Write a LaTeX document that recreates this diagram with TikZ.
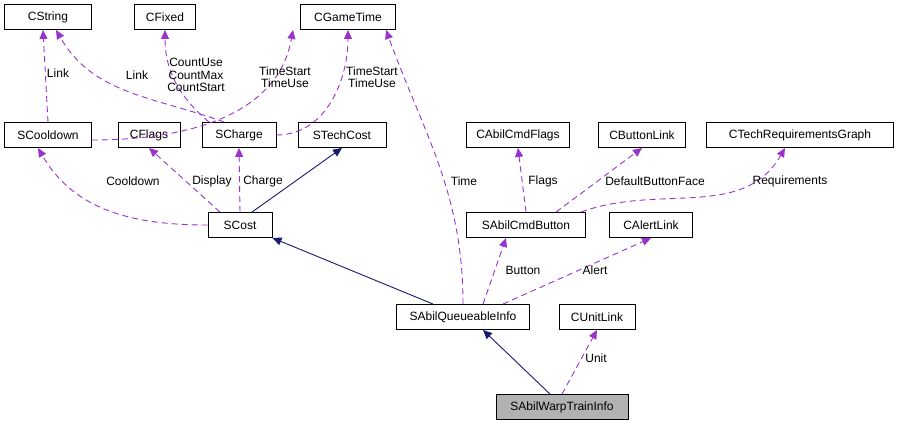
\documentclass[tikz,border=0pt]{standalone}
\usepackage{fontspec}
\setmainfont{Liberation Sans}
\usetikzlibrary{arrows.meta}
\definecolor{dep}{HTML}{9A32CD}
\definecolor{inh}{HTML}{191970}
\begin{document}
\begin{tikzpicture}[x=1pt,y=-1pt,line width=0.9pt,
 box/.style={draw=black,fill=white,minimum height=25pt,inner xsep=2pt,font=\fontsize{12}{13}\selectfont},
 use/.style={draw=dep,dash pattern=on 6pt off 4pt,-{Triangle[length=9pt,width=8pt,fill=dep]}},
 base/.style={draw=inh,-{Triangle[length=9pt,width=8pt,fill=inh]}},
 lab/.style={font=\fontsize{12}{12.5}\selectfont,align=center,inner sep=1pt}]
\useasboundingbox (0,0) rectangle (901,424);
\node[box,minimum width=87pt] (cstr) at (48,17) {CString};
\node[box,minimum width=61pt] (cfix) at (165,17) {CFixed};
\node[box,minimum width=95pt] (cgt) at (348,17) {CGameTime};
\node[box,minimum width=87pt] (scd) at (48,135) {SCooldown};
\node[box,minimum width=62pt] (cfl) at (149,135) {CFlags};
\node[box,minimum width=74pt] (sch) at (239,135) {SCharge};
\node[box,minimum width=88pt] (stc) at (342,135) {STechCost};
\node[box,minimum width=103pt] (caf) at (518,135) {CAbilCmdFlags};
\node[box,minimum width=87pt] (cbl) at (642,135) {CButtonLink};
\node[box,minimum width=187pt] (ctr) at (800,135) {CTechRequirementsGraph};
\node[box,minimum width=64pt] (sco) at (240,225) {SCost};
\node[box,minimum width=119pt] (sacb) at (526,225) {SAbilCmdButton};
\node[box,minimum width=83pt] (cal) at (651,225) {CAlertLink};
\node[box,minimum width=133pt] (saq) at (463,317) {SAbilQueueableInfo};
\node[box,minimum width=76pt] (cul) at (597,317) {CUnitLink};
\node[box,minimum width=132pt,fill=black!30] (swt) at (562,407) {SAbilWarpTrainInfo};

\draw[use] (scd.north) -- ([xshift=-5pt]cstr.south);
\draw[use] ([xshift=-15pt]sch.north) to[out=160,in=-60] ([xshift=8pt]cstr.south);
\draw[use] ([xshift=-30pt]sch.north) to[out=140,in=-90] (cfix.south);
\draw[use] ([yshift=-5pt]scd.east) to[out=0,in=-100] ([xshift=-55pt]cgt.south);
\draw[use] (sch.east) to[out=0,in=-90] (cgt.south);
\draw[use] (sco.west) to[out=180,in=-60] ([xshift=-10pt]scd.south);
\draw[use] ([xshift=-20pt]sco.north) -- (cfl.south);
\draw[use] (sco.north) -- (sch.south);
\draw[base] ([xshift=12pt]sco.north) -- (stc.south);
\draw[base] ([xshift=-30pt]saq.north) -- (sco.south east);
\draw[use] (saq.north) to[out=90,in=-70] ([xshift=38pt]cgt.south);
\draw[use] (sacb.north) -- (caf.south);
\draw[use] ([xshift=30pt]sacb.north) -- (cbl.south);
\draw[use] ([xshift=-5pt]sacb.north east) to[out=20,in=-120] ([xshift=-15pt]ctr.south);
\draw[use] ([xshift=20pt]saq.north) -- ([xshift=-20pt]sacb.south);
\draw[use] ([xshift=40pt]saq.north) -- (cal.south);
\draw[base] ([xshift=-12pt]swt.north) -- ([xshift=20pt]saq.south);
\draw[use] (swt.north) -- (cul.south);

\node[lab] (l1) at (58,73) {Link};
\node[lab] (l2) at (137,75) {Link};
\node[lab] (l3) at (196,75) {CountUse\\CountMax\\CountStart};
\node[lab] (l4) at (285,77) {TimeStart\\TimeUse};
\node[lab] (l5) at (372,77) {TimeStart\\TimeUse};
\node[lab] (l6) at (133,181) {Cooldown};
\node[lab] (l7) at (212,181) {Display};
\node[lab] (l8) at (263,181) {Charge};
\node[lab] (l9) at (464,181) {Time};
\node[lab] (l10) at (543,181) {Flags};
\node[lab] (l11) at (655,181) {DefaultButtonFace};
\node[lab] (l12) at (790,181) {Requirements};
\node[lab] (l13) at (523,270) {Button};
\node[lab] (l14) at (595,270) {Alert};
\node[lab] (l15) at (596,358) {Unit};
\end{tikzpicture}
\end{document}
